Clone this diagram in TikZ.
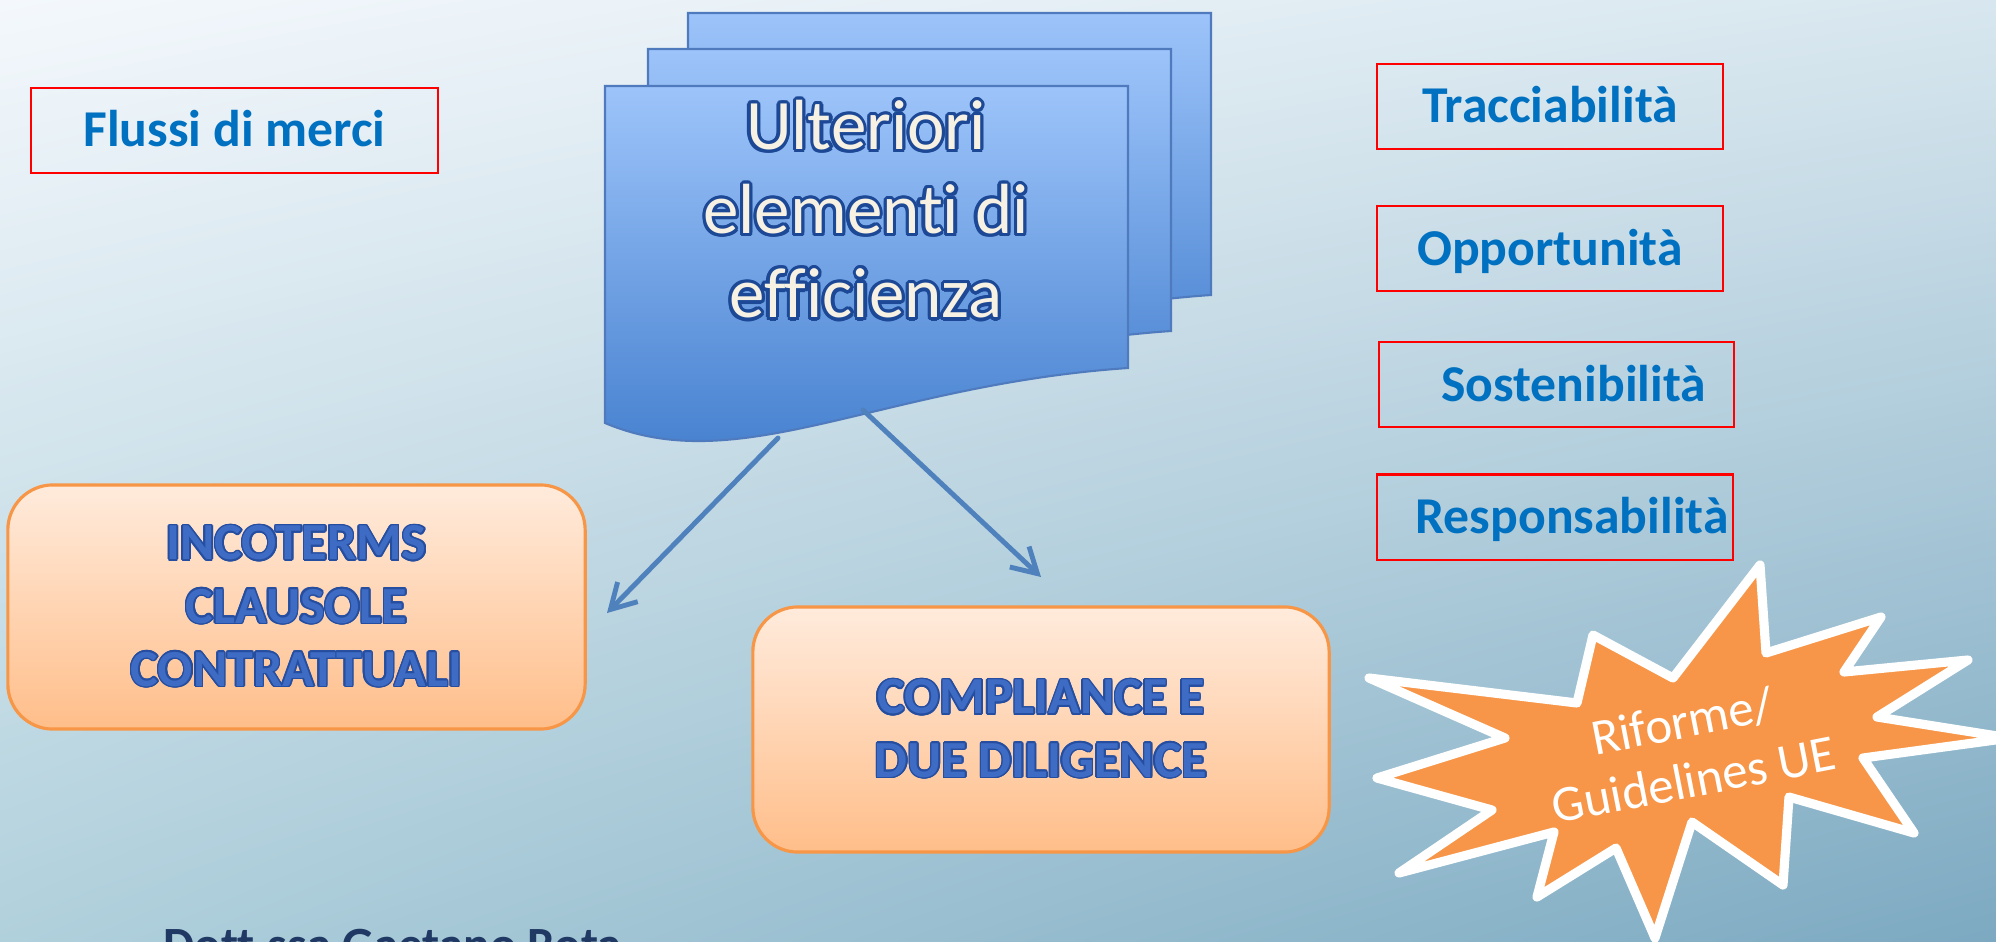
\documentclass[tikz,border=0pt]{standalone}
\usepackage{fontspec}
\setmainfont{Carlito}[Ligatures=NoCommon]
\usepackage{contour}
\usetikzlibrary{arrows.meta, positioning, shadings}
\definecolor{bg_ul}{RGB}{244,248,252}
\definecolor{bg_ur}{RGB}{216,231,239}
\definecolor{bg_ll}{RGB}{176,208,220}
\definecolor{bg_lr}{RGB}{124,169,193}
\definecolor{tag_blue}{HTML}{0070C0}
\definecolor{doc_top}{RGB}{157,196,250}
\definecolor{doc_bot}{RGB}{64,124,204}
\definecolor{doc_line}{RGB}{79,123,190}
\definecolor{wa_cream}{RGB}{246,241,226}
\definecolor{wa_navy}{RGB}{28,72,150}
\definecolor{box_top}{RGB}{255,235,220}
\definecolor{box_bot}{RGB}{255,190,138}
\definecolor{box_line}{RGB}{247,150,70}
\definecolor{wa_blue}{RGB}{62,108,196}
\definecolor{wa_edge}{RGB}{38,78,160}
\definecolor{arrow_blue}{RGB}{79,129,189}
\definecolor{star_orange}{RGB}{247,150,72}
\definecolor{name_navy}{RGB}{31,56,100}

\begin{document}
\begin{tikzpicture}
   [
      x=0.01cm, y=-0.01cm,
      tag/.style={draw=red, line width=0.6pt, inner sep=0pt, text=tag_blue,
                  font=\fontsize{14.7}{18}\selectfont\bfseries,
                  text height=9.3pt, text depth=0pt, minimum height=0.85cm},
      clause/.style={draw=box_line, line width=0.9pt, rounded corners=0.45cm,
                     top color=box_top, bottom color=box_bot, align=center, inner sep=0pt,
                     text=wa_blue, font=\contourlength{0.45pt}\fontsize{14.8}{18}\selectfont\bfseries},
      sheet/.style={draw=doc_line, line width=0.6pt, top color=doc_top, bottom color=doc_bot},
      doc text/.style={align=center, text=wa_cream, font=\contourlength{0.9pt}\fontsize{20.2}{23.9}\selectfont},
      burst/.style={fill=star_orange, draw=white, line width=2.6pt, line join=round},
      burst text/.style={align=center, text=white, font=\fontsize{14.5}{17}\selectfont},
      link/.style={draw=arrow_blue, line width=1.4pt, line cap=round,
                   -{Straight Barb[length=7pt, width=8pt]}},
      node distance=0.5cm % vertical spacing of the keyword boxes
   ]

   \useasboundingbox (0,0) rectangle (1996,942);
   \clip (0,0) rectangle (1996,942);

   % background
   \shade[upper left=bg_ul, upper right=bg_ur, lower left=bg_ll, lower right=bg_lr]
      (0,0) rectangle (1996,942);

   % =======================================================
   % Left tag
   % =======================================================
   \node[tag, minimum width=4.07cm] (flussi) at (234.5,130.5) {Flussi di merci};

   % =======================================================
   % Right column of keywords
   % =======================================================
   \node[tag, minimum width=3.46cm] (tracc) at (1550,106.5) {Tracciabilità};
   \node[tag, minimum width=3.46cm, below=0.55cm of tracc] (opport) {Opportunità};
   \node[tag, minimum width=3.55cm, below=0.49cm of opport, xshift=0.065cm] (sosten)
      {\hspace*{9.7pt}Sostenibilità};
   \node[tag, minimum width=3.56cm, below=0.45cm of sosten, xshift=-0.015cm] (respons)
      {\hspace*{9.7pt}Responsabilità};

   % =======================================================
   % Stacked documents
   % =======================================================
   \foreach \dx/\dy in {83/-73, 43/-37, 0/0}
      \draw[sheet, shift={(\dx,\dy)}] (605,86) -- (1128,86) -- (1128,368)
         .. controls (880,385) and (740,480) .. (605,423) -- cycle;

   \node[doc text] (doc) at (866,211)
      {\contour{wa_navy}{Ulteriori}\\ \contour{wa_navy}{elementi di}\\ \contour{wa_navy}{efficienza}};

   % =======================================================
   % Orange boxes
   % =======================================================
   \node[clause, minimum width=5.77cm, minimum height=2.44cm] (incoterms) at (296.5,607)
      {\contour{wa_edge}{INCOTERMS}\\ \contour{wa_edge}{CLAUSOLE}\\ \contour{wa_edge}{CONTRATTUALI}};
   \node[clause, minimum width=5.76cm, minimum height=2.45cm] (compliance) at (1041,729.5)
      {\contour{wa_edge}{COMPLIANCE E}\\ \contour{wa_edge}{DUE DILIGENCE}};

   % =======================================================
   % Arrows
   % =======================================================
   \coordinate (doc_l) at (778,438);
   \coordinate (doc_r) at (863,410);
   \coordinate (inco_in) at (607,613);
   \coordinate (comp_in) at (1041,577);

   \draw[link] (doc_l) -- (inco_in);
   \draw[link] (doc_r) -- (comp_in);

   % =======================================================
   % Burst
   % =======================================================
   \draw[burst] (1760,565) -- (1766,653) -- (1881,617) -- (1844,672) -- (1968,660)
      -- (1877,717) -- (2010,738) -- (1863,758) -- (1914,833) -- (1789,797)
      -- (1783,885) -- (1692,822) -- (1655,938) -- (1616,848) -- (1537,897)
      -- (1554,832) -- (1399,873) -- (1492,810) -- (1377,778) -- (1505,738)
      -- (1369,678) -- (1577,703) -- (1593,635) -- (1673,678) -- cycle;
   \node[burst text, rotate=11] (riforme) at (1688,750) {Riforme/\\Guidelines UE};

   % footer name, cut by the page edge
   \node[anchor=base west, inner sep=0pt, text=name_navy, font=\fontsize{14}{17}\selectfont\bfseries]
      (autore) at (163,961) {Dott.ssa Gaetano Rota};

\end{tikzpicture}
\end{document}
